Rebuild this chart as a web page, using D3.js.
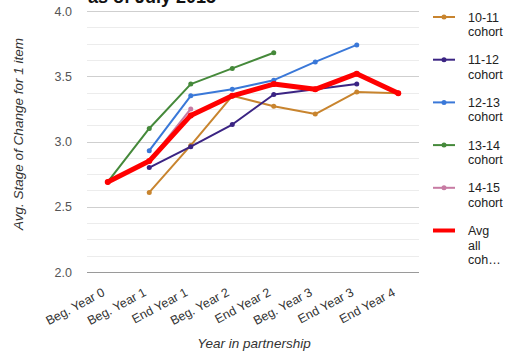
<!DOCTYPE html>
<html>
<head>
<meta charset="utf-8">
<script src="https://cdn.jsdelivr.net/npm/d3@7"></script>
<style>
  html, body { margin: 0; padding: 0; background: #fff; }
  svg { display: block; font-family: Arial, "Liberation Sans", sans-serif; }
</style>
</head>
<body>
<svg id="chart" width="508" height="354"></svg>
<script>
// Stage-of-change averages per cohort over the partnership timeline
const categories = ["Beg. Year 0", "Beg. Year 1", "End Year 1", "Beg. Year 2",
                    "End Year 2", "Beg. Year 3", "End Year 3", "End Year 4"];
const seriesNames = ["10-11 cohort", "11-12 cohort", "12-13 cohort",
                     "13-14 cohort", "14-15 cohort", "Avg all cohorts"];
const legendLines = [["10-11", "cohort"], ["11-12", "cohort"], ["12-13", "cohort"],
                     ["13-14", "cohort"], ["14-15", "cohort"], ["Avg", "all", "coh…"]];
const cohort1011 = [null, 2.61, 2.97, 3.35, 3.27, 3.21, 3.38, 3.37];
const cohort1112 = [null, 2.80, 2.96, 3.13, 3.36, 3.40, 3.44, null];
const cohort1213 = [null, 2.93, 3.35, 3.40, 3.47, 3.61, 3.74, null];
const cohort1314 = [2.69, 3.10, 3.44, 3.56, 3.68, null, null, null];
const cohort1415 = [null, 2.85, 3.25, null, null, null, null, null];
const avgAll     = [2.69, 2.85, 3.20, 3.35, 3.44, 3.40, 3.52, 3.37];
const yTicks = [2.0, 2.5, 3.0, 3.5, 4.0];
const titleText = "as of July 2015";
const xTitle = "Year in partnership";
const yTitle = "Avg. Stage of Change for 1 item";

const allSeries = [cohort1011, cohort1112, cohort1213, cohort1314, cohort1415, avgAll];
const colors = ["#c8842e", "#3b2483", "#3a78d8", "#45893a", "#c77ba3", "#ff0000"];
const widths = [2, 2, 2, 2, 2, 5];

const svg = d3.select("#chart");
const plotLeft = 87, plotRight = 419, plotTop = 11, plotBottom = 272;

const x = d3.scaleBand().domain(categories).range([plotLeft, plotRight]);
const cx = c => x(c) + x.bandwidth() / 2;
const y = d3.scaleLinear().domain([2, 4]).range([plotBottom, plotTop]);

// Gridlines: minor every 0.125, major every 0.5
const minor = d3.range(2, 4.0001, 0.125);
svg.append("g").selectAll("line").data(minor).join("line")
  .attr("x1", plotLeft).attr("x2", plotRight)
  .attr("y1", d => Math.round(y(d)) + 0.5).attr("y2", d => Math.round(y(d)) + 0.5)
  .attr("stroke", d => (Math.abs(d * 2 - Math.round(d * 2)) < 1e-6) ? "#cfcfcf" : "#ececec")
  .attr("stroke-width", 1);
svg.append("line")
  .attr("x1", plotLeft).attr("x2", plotRight)
  .attr("y1", Math.round(y(2)) + 0.5).attr("y2", Math.round(y(2)) + 0.5)
  .attr("stroke", "#9a9a9a");

// Y axis labels
const yAxis = d3.axisLeft(y).tickValues(yTicks).tickFormat(d3.format(".1f")).tickSize(0).tickPadding(0);
const gy = svg.append("g").attr("transform", `translate(${plotLeft - 15},0)`).call(yAxis);
gy.select(".domain").remove();
gy.selectAll("text").attr("fill", "#555").style("font-size", "12.5px")
  .style("font-family", "Arial, 'Liberation Sans', sans-serif");

// X axis labels, slanted
const xAxis = d3.axisBottom(x).tickSize(0).tickPadding(0);
const gx = svg.append("g").attr("transform", `translate(0,${plotBottom + 23})`).call(xAxis);
gx.select(".domain").remove();
gx.selectAll("text")
  .attr("text-anchor", "end")
  .attr("dy", "0")
  .attr("y", 0)
  .attr("x", 0)
  .attr("transform", "translate(-2,0) rotate(-28)")
  .attr("fill", "#333")
  .style("font-size", "12.5px")
  .style("font-family", "Arial, 'Liberation Sans', sans-serif");

// Axis titles
svg.append("text").attr("x", 254).attr("y", 348).attr("text-anchor", "middle")
  .attr("font-style", "italic").attr("font-size", 13.5).attr("fill", "#333").text(xTitle);
svg.append("text").attr("transform", "translate(23,134) rotate(-90)").attr("text-anchor", "middle")
  .attr("font-style", "italic").attr("font-size", 13.5).attr("fill", "#333").text(yTitle);

// Title (top clipped by the frame)
svg.append("text").attr("x", 88).attr("y", 3).attr("font-weight", "bold")
  .attr("font-size", 18).attr("fill", "#111").text(titleText);

// Series lines
const line = d3.line()
  .defined(d => d.v !== null)
  .x(d => cx(d.c)).y(d => y(d.v));

allSeries.forEach((vals, i) => {
  const pts = categories.map((c, j) => ({ c, v: vals[j] }));
  const g = svg.append("g");
  g.append("path").datum(pts).attr("d", line)
    .attr("fill", "none").attr("stroke", colors[i]).attr("stroke-width", widths[i])
    .attr("stroke-linejoin", "round").attr("stroke-linecap", "round");
  g.selectAll("circle").data(pts.filter(d => d.v !== null)).join("circle")
    .attr("cx", d => cx(d.c)).attr("cy", d => y(d.v))
    .attr("r", i === 5 ? 3 : 2.5).attr("fill", colors[i]);
});

// Legend
const lg = svg.append("g");
legendLines.forEach((lines, i) => {
  const y0 = 17 + i * 42.7;
  lg.append("line").attr("x1", 433).attr("x2", 455).attr("y1", y0).attr("y2", y0)
    .attr("stroke", colors[i]).attr("stroke-width", widths[i] === 5 ? 4 : 2);
  if (i < 5) lg.append("circle").attr("cx", 444).attr("cy", y0).attr("r", 2.5).attr("fill", colors[i]);
  lines.forEach((t, k) => {
    lg.append("text").attr("x", 468).attr("y", y0 + 4.5 + k * 14.5)
      .attr("font-size", 12.5).attr("fill", "#222").text(t);
  });
});
</script>
</body>
</html>
